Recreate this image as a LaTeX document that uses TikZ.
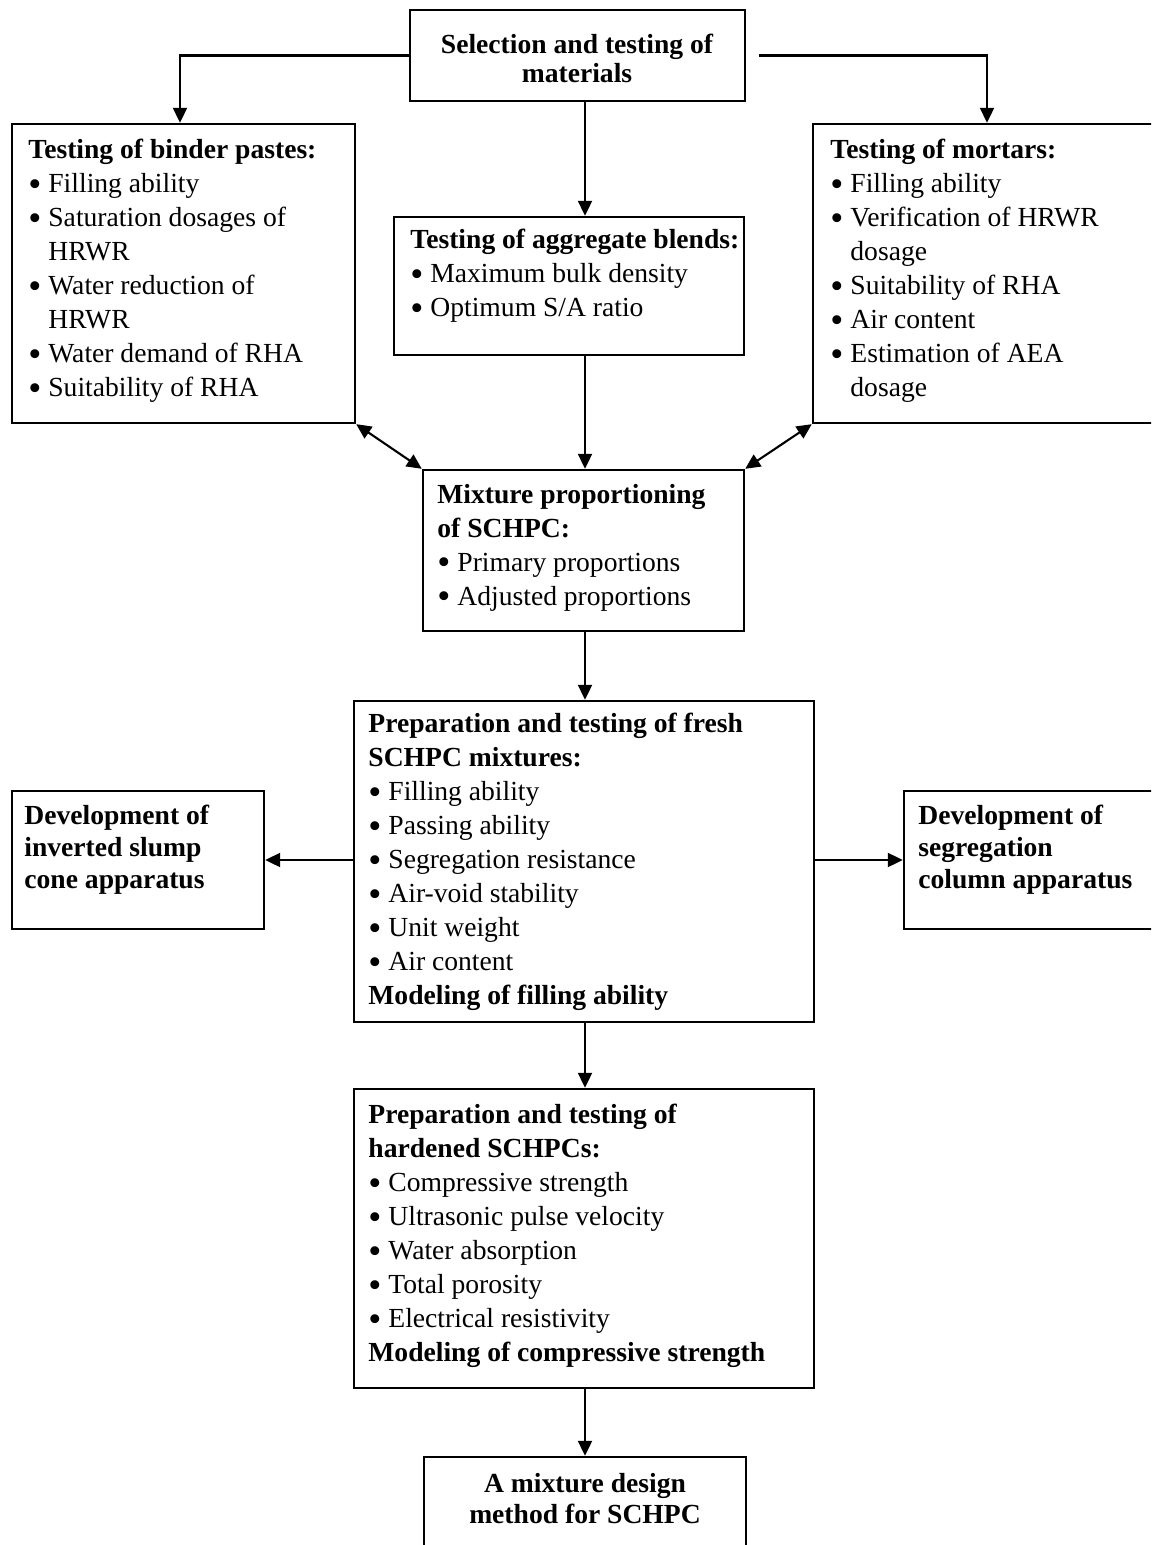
\documentclass[tikz,border=0pt]{standalone}
\usepackage{fontspec}
\setmainfont{Liberation Serif}
\usetikzlibrary{arrows.meta,calc}
\newcommand\bi{\makebox[10pt][l]{\raisebox{-1.6pt}{\scalebox{1.35}{\textbullet}}}}
\newcommand\bc{\hspace*{10pt}}
\tikzset{
  box/.style={draw, line width=1.2pt, rectangle, inner sep=0pt},
  txt/.style={anchor=north west, inner sep=0pt, align=left, font=\fontsize{13.8pt}{17pt}\selectfont},
  ctxt/.style={anchor=north, inner sep=0pt, align=center, font=\fontsize{13.8pt}{15pt}\selectfont\bfseries},
  arr/.style={line width=1.05pt, -{Triangle[length=7.5pt,width=7pt]}},
  dbl/.style={line width=1.05pt, {Triangle[length=7.5pt,width=7pt]}-{Triangle[length=7.5pt,width=7pt]}}
}
\begin{document}
\begin{tikzpicture}[x=0.5pt,y=-0.5pt]
\useasboundingbox (0,0) rectangle (1151,1545);
\clip (0,0) rectangle (1151,1545);
\coordinate (ax) at (585,0);
% boxes
\node[box, minimum width=167.5pt, minimum height=45.5pt] (top) at (577.5,55.5) {};
\node[box, minimum width=171.5pt, minimum height=149.5pt] (left) at (183.5,273.5) {};
\node[box, minimum width=176pt, minimum height=149.5pt] (right) at (989,273.5) {};
\node[box, minimum width=175pt, minimum height=69pt] (agg) at (569,286) {};
\node[box, minimum width=160.5pt, minimum height=80.5pt] (mix) at (583.5,550.5) {};
\node[box, minimum width=230pt, minimum height=160.5pt] (fresh) at (584,861.5) {};
\node[box, minimum width=126pt, minimum height=69pt] (devL) at (138,860) {};
\node[box, minimum width=130.5pt, minimum height=69pt] (devR) at (1034.5,860) {};
\node[box, minimum width=230pt, minimum height=149.5pt] (hard) at (584,1238.5) {};
\node[box, minimum width=161pt, minimum height=56.5pt] (final) at (585,1513.5) {};
% texts
\node[ctxt, font=\fontsize{13.8pt}{14.5pt}\selectfont\bfseries] (toptxt) at (577,34) {Selection and testing of\\materials};
\node[txt] (lefttxt) at (28,139) {\textbf{Testing of binder pastes:}\\
\bi Filling ability\\
\bi Saturation dosages of\\
\bc HRWR\\
\bi Water reduction of\\
\bc HRWR\\
\bi Water demand of RHA\\
\bi Suitability of RHA};
\node[txt] (righttxt) at (830,139) {\textbf{Testing of mortars:}\\
\bi Filling ability\\
\bi Verification of HRWR\\
\bc dosage\\
\bi Suitability of RHA\\
\bi Air content\\
\bi Estimation of AEA\\
\bc dosage};
\node[txt] (aggtxt) at (410,229) {\textbf{Testing of aggregate blends:}\\
\bi Maximum bulk density\\
\bi Optimum S/A ratio};
\node[txt] (mixtxt) at (437,484) {\textbf{Mixture proportioning}\\
\textbf{of SCHPC:}\\
\bi Primary proportions\\
\bi Adjusted proportions};
\node[txt] (freshtxt) at (368,713) {\textbf{Preparation and testing of fresh}\\
\textbf{SCHPC mixtures:}\\
\bi Filling ability\\
\bi Passing ability\\
\bi Segregation resistance\\
\bi Air-void stability\\
\bi Unit weight\\
\bi Air content\\
\textbf{Modeling of filling ability}};
\node[txt] (hardtxt) at (368,1104) {\textbf{Preparation and testing of}\\
\textbf{hardened SCHPCs:}\\
\bi Compressive strength\\
\bi Ultrasonic pulse velocity\\
\bi Water absorption\\
\bi Total porosity\\
\bi Electrical resistivity\\
\textbf{Modeling of compressive strength}};
\node[txt, font=\fontsize{13.8pt}{16pt}\selectfont\bfseries] (devLtxt) at (24,805) {Development of\\inverted slump\\cone apparatus};
\node[txt, font=\fontsize{13.8pt}{16pt}\selectfont\bfseries] (devRtxt) at (918,805) {Development of\\segregation\\column apparatus};
\node[ctxt, font=\fontsize{13.8pt}{15.5pt}\selectfont\bfseries] (finaltxt) at (585,1473) {A mixture design\\method for SCHPC};
% connectors
\draw[arr] (top.west) -| ([xshift=-1.75pt]left.north);
\draw[arr] ([xshift=6.5pt]top.east) -| ([xshift=-1pt]right.north);
\draw[arr] (top.south -| ax) -- (agg.north -| ax);
\draw[arr] (agg.south -| ax) -- (mix.north -| ax);
\draw[dbl] (left.south east) -- (mix.north west);
\draw[dbl] (right.south west) -- (mix.north east);
\draw[arr] (mix.south -| ax) -- (fresh.north -| ax);
\draw[arr] (fresh.west |- devL) -- (devL.east);
\draw[arr] (fresh.east |- devR) -- (devR.west);
\draw[arr] (fresh.south -| ax) -- (hard.north -| ax);
\draw[arr] (hard.south -| ax) -- (final.north -| ax);
\end{tikzpicture}
\end{document}
